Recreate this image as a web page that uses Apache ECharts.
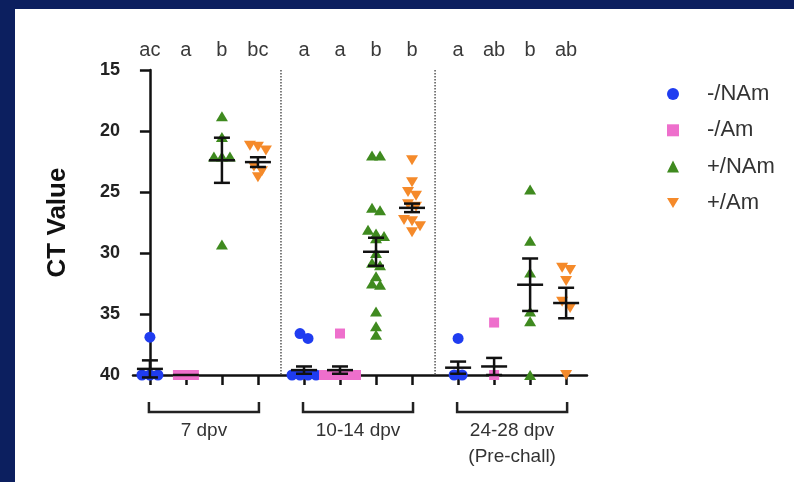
<!DOCTYPE html>
<html><head><meta charset="utf-8">
<script src="https://cdn.jsdelivr.net/npm/echarts@6/dist/echarts.min.js"></script>
<style>html,body{margin:0;padding:0;background:#fff}#c{width:794px;height:482px}</style>
</head><body><div id="c"></div>
<script>
// ---- data ----
const groupLabels = ['7 dpv', '10-14 dpv', '24-28 dpv\n(Pre-chall)'];
const seriesNames = ['-/NAm', '-/Am', '+/NAm', '+/Am'];
const letters = [['ac', 'a', 'b', 'bc'], ['a', 'a', 'b', 'b'], ['a', 'ab', 'b', 'ab']];
const yTicks = [15, 20, 25, 30, 35, 40];

// CT values per group (7 dpv, 10-14 dpv, 24-28 dpv)
const negNAm = [[36.9, 40, 40, 40], [36.6, 37.0, 40, 40, 40, 40], [37.0, 40, 40]];
const negAm = [[40, 40, 40], [36.6, 40, 40, 40, 40, 40], [35.7, 40]];
const posNAm = [[18.8, 20.5, 22.1, 22.1, 22.1, 29.3],
  [22.0, 22.0, 26.3, 26.5, 28.1, 28.4, 28.6, 28.8, 30.0, 30.8, 31.0, 31.9, 32.5, 32.6, 34.8, 36.0, 36.7],
  [24.8, 29.0, 31.6, 34.8, 35.6, 40]];
const posAm = [[21.2, 21.3, 21.6, 22.9, 23.3, 23.8],
  [22.4, 24.2, 25.0, 25.3, 26.0, 26.2, 27.3, 27.4, 27.8, 28.3],
  [31.2, 31.4, 32.3, 34.0, 34.5, 40]];

// mean and SEM as shown in the figure
const meanNegNAm = [39.5, 39.6, 39.4];
const semNegNAm = [0.7, 0.3, 0.5];
const meanNegAm = [40, 39.6, 39.3];
const semNegAm = [0, 0.3, 0.7];
const meanPosNAm = [22.4, 29.9, 32.6];
const semPosNAm = [1.85, 1.15, 2.15];
const meanPosAm = [22.55, 26.3, 34.1];
const semPosAm = [0.4, 0.35, 1.25];

// ---- layout / style ----
const FONT = '"Liberation Sans", Arial, Helvetica, sans-serif';
const colors = ['#1f3cf0', '#ee6fcc', '#3f8a1f', '#f58a2a'];
const symbols = ['circle', 'rect', 'triangle', 'path://M0,0 L12,0 L6,10 Z'];
const symbolSizes = [11, 10, [12, 10], [12, 10]];
const GROUP_STEP = 4.28;
const X_MIN = -0.47, X_MAX = 12.14;
const GRID = {left: 133, right: 207, top: 70, bottom: 107};
const W = 794, H = 482;
const pxPerX = (W - GRID.left - GRID.right) / (X_MAX - X_MIN);
const pxPerY = (H - GRID.top - GRID.bottom) / (40 - 15);
const DODGE_PX = 8;
const CLUSTER_PX = 6.5;

const allVals = [negNAm, negAm, posNAm, posAm];
const allMeans = [meanNegNAm, meanNegAm, meanPosNAm, meanPosAm];
const allSems = [semNegNAm, semNegAm, semPosNAm, semPosAm];

function xPos(g, i) { return g * GROUP_STEP + i; }

function swarm(vals, center) {
  const s = vals.slice().sort((a, b) => a - b);
  const out = [];
  let i = 0;
  while (i < s.length) {
    let j = i;
    while (j + 1 < s.length && (s[j + 1] - s[i]) * pxPerY < CLUSTER_PX) j++;
    const n = j - i + 1;
    for (let k = 0; k < n; k++) {
      out.push([center + (k - (n - 1) / 2) * DODGE_PX / pxPerX, s[i + k]]);
    }
    i = j + 1;
  }
  return out;
}

const tickPositions = [];
for (let g = 0; g < 3; g++) for (let i = 0; i < 4; i++) tickPositions.push(xPos(g, i));

const scatterSeries = seriesNames.map((name, t) => {
  let data = [];
  for (let g = 0; g < 3; g++) data = data.concat(swarm(allVals[t][g], xPos(g, t)));
  return {
    name, type: 'scatter', data, symbol: symbols[t], symbolSize: symbolSizes[t],
    itemStyle: {color: colors[t], opacity: 1}, z: 3, clip: false,
    emphasis: {disabled: true}
  };
});

const errData = [];
for (let t = 0; t < 4; t++) for (let g = 0; g < 3; g++) {
  errData.push([xPos(g, t), allMeans[t][g], allSems[t][g]]);
}

const letterData = [];
for (let g = 0; g < 3; g++) for (let i = 0; i < 4; i++) letterData.push([xPos(g, i), 15]);

const bracketData = groupLabels.map((lab, g) => [xPos(g, 0), 40, xPos(g, 3)]);
const sepData = [0, 1].map(g => [(xPos(g, 3) + xPos(g + 1, 0)) / 2, 15]);

const navy = '#0c1f5f';
const chart = echarts.init(document.getElementById('c'), null, {renderer: 'canvas'});
chart.setOption({
  animation: false,
  backgroundColor: '#ffffff',
  textStyle: {fontFamily: FONT},
  graphic: [
    {type: 'rect', left: 0, top: 0, shape: {width: 15, height: H}, style: {fill: navy}, z: 100},
    {type: 'rect', left: 0, top: 0, shape: {width: W, height: 9}, style: {fill: navy}, z: 100}
  ],
  grid: {left: GRID.left, right: GRID.right, top: GRID.top, bottom: GRID.bottom, containLabel: false},
  legend: {
    orient: 'vertical', left: 662, top: 77, itemWidth: 12, itemHeight: 12, itemGap: 12.3,
    selectedMode: false, data: seriesNames,
    textStyle: {fontSize: 22, color: '#333', lineHeight: 24, fontFamily: FONT, padding: [0, 0, 0, 23]}
  },
  xAxis: {
    type: 'value', min: X_MIN, max: X_MAX,
    splitLine: {show: false},
    axisLine: {show: true, onZero: false, lineStyle: {color: '#111', width: 2.5}},
    axisTick: {show: true, length: 10, customValues: tickPositions, lineStyle: {color: '#111', width: 2.5}},
    axisLabel: {show: false}
  },
  yAxis: {
    type: 'value', inverse: true, min: 15, max: 40, interval: 5,
    name: 'CT Value', nameLocation: 'middle', nameGap: 62,
    nameTextStyle: {fontSize: 26, fontWeight: 'bold', color: '#111', fontFamily: FONT},
    splitLine: {show: false},
    axisLine: {show: true, lineStyle: {color: '#111', width: 2.5}},
    axisTick: {show: true, length: 10, lineStyle: {color: '#111', width: 2.5}},
    axisLabel: {fontSize: 18, fontWeight: 'bold', color: '#222', margin: 13, fontFamily: FONT,
      formatter: v => yTicks.includes(v) ? String(v) : ''}
  },
  series: scatterSeries.concat([
    {
      type: 'custom', name: 'sem', z: 5, clip: false, data: errData, encode: {x: 0, y: 1},
      renderItem(params, api) {
        const x = api.value(0), m = api.value(1), s = api.value(2);
        const c = api.coord([x, m]);
        const st = {stroke: '#111', lineWidth: 2.5};
        const ch = [{type: 'line', shape: {x1: c[0] - 13, y1: c[1], x2: c[0] + 13, y2: c[1]}, style: st}];
        if (s > 0) {
          const tp = api.coord([x, m - s]), bt = api.coord([x, m + s]);
          ch.push({type: 'line', shape: {x1: c[0], y1: tp[1], x2: c[0], y2: bt[1]}, style: st});
          ch.push({type: 'line', shape: {x1: c[0] - 8, y1: tp[1], x2: c[0] + 8, y2: tp[1]}, style: st});
          ch.push({type: 'line', shape: {x1: c[0] - 8, y1: bt[1], x2: c[0] + 8, y2: bt[1]}, style: st});
        }
        return {type: 'group', children: ch};
      }
    },
    {
      type: 'custom', name: 'letters', clip: false, data: letterData, encode: {x: 0, y: 1},
      renderItem(params, api) {
        const c = api.coord([api.value(0), api.value(1)]);
        return {type: 'text', x: c[0], y: c[1] - 20,
          style: {text: letters[Math.floor(params.dataIndex / 4)][params.dataIndex % 4],
            fill: '#3a3a3a', font: '20px ' + FONT, align: 'center', verticalAlign: 'middle'}};
      }
    },
    {
      type: 'custom', name: 'brackets', clip: false, data: bracketData, encode: {x: 0, y: 1},
      renderItem(params, api) {
        const a = api.coord([api.value(0), 40]), b = api.coord([api.value(2), 40]);
        const y0 = a[1];
        const st = {stroke: '#222', lineWidth: 2.5, fill: null};
        return {type: 'group', children: [
          {type: 'polyline', shape: {points: [[a[0] - 1, y0 + 27], [a[0] - 1, y0 + 37], [b[0] + 1, y0 + 37], [b[0] + 1, y0 + 27]]}, style: st},
          {type: 'text', x: (a[0] + b[0]) / 2, y: y0 + 43,
            style: {text: groupLabels[params.dataIndex], fill: '#333', font: '19px ' + FONT,
              align: 'center', verticalAlign: 'top', lineHeight: 26}}
        ]};
      }
    },
    {
      type: 'custom', name: 'sep', clip: false, data: sepData, encode: {x: 0, y: 1},
      renderItem(params, api) {
        const t = api.coord([api.value(0), 15]), b = api.coord([api.value(0), 40]);
        return {type: 'line', shape: {x1: t[0], y1: t[1], x2: b[0], y2: b[1]},
          style: {stroke: '#555', lineWidth: 1.5, lineDash: [1.5, 1.5]}};
      }
    }
  ])
});
</script></body></html>
